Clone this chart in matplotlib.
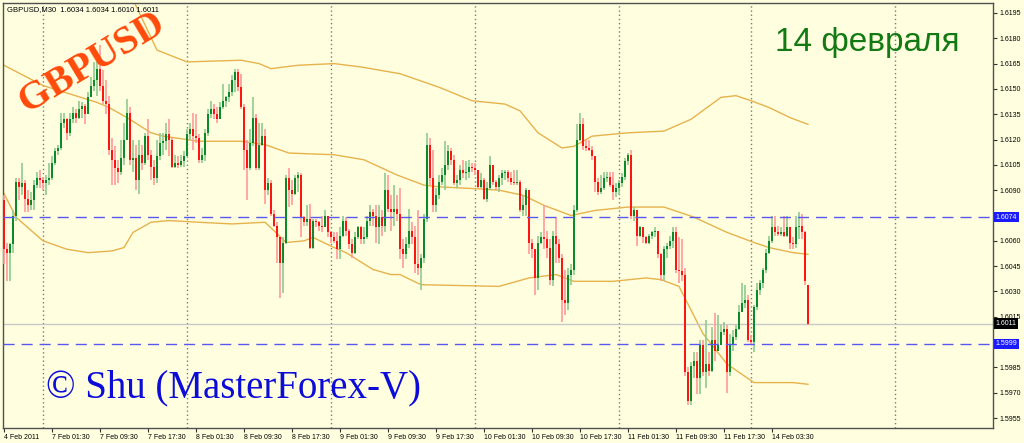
import matplotlib
matplotlib.use("Agg")
import matplotlib.pyplot as plt
import matplotlib.transforms as mtransforms
import numpy as np

# GBPUSD M30 candles, 4 Feb 2011 15:30 .. 14 Feb 2011 09:30 (prices in 0.0001 units)
opens = [
    16084, 16055, 16053, 16058, 16075, 16095, 16092, 16094, 16085, 16081, 16084, 16093, 16097, 16096, 16094, 16096,
    16097, 16106, 16113, 16115, 16130, 16132, 16124, 16132, 16136, 16133, 16138, 16140, 16135, 16145, 16152, 16155,
    16162, 16152, 16143, 16141, 16114, 16108, 16103, 16101, 16109, 16120, 16136, 16108, 16109, 16096, 16111, 16106,
    16122, 16111, 16104, 16097, 16110, 16118, 16119, 16123, 16120, 16104, 16106, 16105, 16107, 16110, 16123, 16126,
    16122, 16121, 16108, 16111, 16124, 16135, 16138, 16135, 16132, 16139, 16143, 16145, 16148, 16155, 16160, 16151,
    16139, 16114, 16103, 16118, 16133, 16103, 16117, 16122, 16090, 16094, 16076, 16069, 16062, 16047, 16059, 16097,
    16090, 16088, 16097, 16099, 16074, 16071, 16073, 16056, 16072, 16071, 16069, 16068, 16075, 16065, 16062, 16060,
    16055, 16063, 16072, 16066, 16058, 16053, 16062, 16068, 16061, 16062, 16072, 16077, 16075, 16068, 16074, 16069,
    16090, 16079, 16077, 16079, 16076, 16055, 16052, 16058, 16066, 16062, 16046, 16044, 16050, 16073, 16117, 16097,
    16081, 16087, 16095, 16099, 16105, 16113, 16108, 16094, 16096, 16102, 16100, 16101, 16104, 16103, 16102, 16092,
    16096, 16085, 16091, 16105, 16095, 16092, 16097, 16100, 16101, 16097, 16095, 16094, 16095, 16078, 16081, 16090,
    16059, 16055, 16038, 16059, 16062, 16061, 16056, 16037, 16063, 16058, 16050, 16025, 16023, 16040, 16043, 16078,
    16120, 16129, 16116, 16115, 16114, 16110, 16095, 16089, 16091, 16097, 16098, 16093, 16089, 16091, 16094, 16098,
    16107, 16111, 16075, 16078, 16063, 16068, 16062, 16059, 16063, 16065, 16066, 16052, 16040, 16055, 16057, 16060,
    16065, 16043, 16042, 16040, 15982, 15965, 15986, 15989, 15979, 15998, 15982, 15987, 15983, 16001, 15995, 15998,
    16006, 16008, 15982, 15998, 16003, 16008, 16018, 16023, 16025, 16001, 16000, 16021, 16031, 16035, 16043, 16053,
    16060, 16068, 16065, 16064, 16065, 16063, 16068, 16059, 16058, 16068, 16069, 16065, 16034,
]
highs = [
    16087, 16059, 16059, 16078, 16097, 16097, 16106, 16096, 16090, 16089, 16096, 16101, 16102, 16098, 16099, 16106,
    16110, 16115, 16117, 16136, 16136, 16133, 16136, 16139, 16138, 16143, 16142, 16141, 16148, 16157, 16166, 16167,
    16176, 16161, 16155, 16146, 16121, 16116, 16108, 16120, 16130, 16144, 16139, 16120, 16117, 16120, 16117, 16124,
    16132, 16114, 16108, 16120, 16124, 16124, 16130, 16132, 16121, 16111, 16110, 16111, 16113, 16126, 16130, 16136,
    16135, 16123, 16115, 16126, 16138, 16143, 16141, 16139, 16142, 16153, 16146, 16153, 16158, 16162, 16162, 16159,
    16141, 16120, 16126, 16145, 16135, 16130, 16130, 16126, 16097, 16096, 16078, 16071, 16063, 16062, 16099, 16103,
    16096, 16099, 16101, 16100, 16075, 16081, 16082, 16073, 16073, 16072, 16075, 16078, 16075, 16066, 16065, 16065,
    16068, 16075, 16074, 16067, 16061, 16065, 16069, 16069, 16068, 16075, 16081, 16079, 16081, 16081, 16078, 16100,
    16099, 16087, 16093, 16087, 16091, 16061, 16062, 16079, 16071, 16069, 16078, 16052, 16076, 16124, 16121, 16114,
    16091, 16099, 16103, 16119, 16117, 16115, 16111, 16099, 16105, 16108, 16107, 16108, 16106, 16106, 16102, 16100,
    16097, 16095, 16110, 16105, 16096, 16099, 16102, 16102, 16102, 16101, 16102, 16102, 16096, 16087, 16091, 16090,
    16061, 16055, 16063, 16065, 16081, 16066, 16061, 16066, 16074, 16061, 16052, 16043, 16044, 16046, 16081, 16129,
    16136, 16133, 16120, 16120, 16116, 16110, 16097, 16099, 16101, 16101, 16101, 16101, 16094, 16096, 16100, 16109,
    16112, 16114, 16080, 16078, 16069, 16068, 16063, 16064, 16066, 16068, 16066, 16053, 16057, 16059, 16063, 16068,
    16068, 16062, 16061, 16044, 15985, 15988, 15994, 15994, 16001, 16001, 16013, 15994, 16009, 16017, 16016, 16010,
    16012, 16010, 16005, 16007, 16010, 16022, 16035, 16034, 16028, 16004, 16022, 16035, 16037, 16044, 16055, 16063,
    16075, 16075, 16069, 16068, 16075, 16075, 16068, 16062, 16075, 16077, 16076, 16066, 16034,
]
lows = [
    16046, 16036, 16036, 16053, 16072, 16084, 16087, 16077, 16077, 16078, 16078, 16091, 16091, 16090, 16087, 16093,
    16096, 16105, 16111, 16114, 16127, 16120, 16122, 16130, 16130, 16132, 16133, 16129, 16135, 16145, 16149, 16146,
    16149, 16141, 16135, 16111, 16093, 16093, 16094, 16099, 16105, 16120, 16105, 16101, 16090, 16088, 16102, 16105,
    16108, 16096, 16093, 16094, 16108, 16111, 16114, 16110, 16103, 16103, 16103, 16104, 16104, 16110, 16120, 16114,
    16118, 16106, 16106, 16107, 16122, 16133, 16132, 16130, 16132, 16138, 16139, 16142, 16146, 16148, 16149, 16138,
    16102, 16084, 16102, 16116, 16102, 16102, 16116, 16082, 16087, 16075, 16068, 16047, 16026, 16029, 16058, 16080,
    16081, 16087, 16089, 16062, 16069, 16069, 16055, 16055, 16068, 16066, 16065, 16068, 16062, 16059, 16059, 16049,
    16049, 16062, 16063, 16055, 16050, 16052, 16061, 16058, 16058, 16061, 16069, 16069, 16059, 16058, 16063, 16065,
    16077, 16066, 16069, 16072, 16049, 16044, 16049, 16056, 16058, 16041, 16040, 16031, 16047, 16071, 16093, 16077,
    16077, 16085, 16093, 16090, 16102, 16105, 16093, 16091, 16093, 16097, 16096, 16097, 16101, 16099, 16091, 16091,
    16084, 16083, 16090, 16093, 16090, 16089, 16093, 16096, 16095, 16093, 16093, 16093, 16077, 16075, 16075, 16052,
    16050, 16028, 16031, 16058, 16055, 16050, 16034, 16033, 16047, 16047, 16012, 16016, 16019, 16034, 16040, 16077,
    16119, 16114, 16113, 16113, 16108, 16089, 16087, 16088, 16090, 16095, 16092, 16084, 16086, 16087, 16092, 16096,
    16105, 16073, 16072, 16057, 16062, 16059, 16058, 16058, 16061, 16062, 16050, 16036, 16036, 16050, 16055, 16056,
    16041, 16035, 16036, 15980, 15963, 15963, 15979, 15969, 15969, 15980, 15973, 15980, 15982, 15989, 15997, 15998,
    16004, 15970, 15980, 15995, 16001, 16007, 16019, 16020, 16000, 15998, 15994, 16019, 16028, 16032, 16041, 16052,
    16059, 16063, 16063, 16063, 16062, 16062, 16055, 16055, 16056, 16061, 16061, 16034, 16010,
]
closes = [
    16055, 16053, 16058, 16075, 16095, 16092, 16094, 16085, 16081, 16084, 16093, 16097, 16096, 16094, 16096, 16097,
    16106, 16113, 16115, 16130, 16132, 16124, 16132, 16136, 16133, 16138, 16140, 16135, 16145, 16152, 16155, 16162,
    16152, 16143, 16141, 16114, 16108, 16103, 16101, 16109, 16120, 16136, 16108, 16109, 16096, 16111, 16106, 16122,
    16111, 16104, 16097, 16110, 16118, 16119, 16123, 16120, 16104, 16106, 16105, 16107, 16110, 16123, 16126, 16122,
    16121, 16108, 16111, 16124, 16135, 16138, 16135, 16132, 16139, 16143, 16145, 16148, 16155, 16160, 16151, 16139,
    16114, 16103, 16118, 16133, 16103, 16117, 16122, 16090, 16094, 16076, 16069, 16062, 16047, 16059, 16097, 16090,
    16088, 16097, 16099, 16074, 16071, 16073, 16056, 16072, 16071, 16069, 16068, 16075, 16065, 16062, 16060, 16055,
    16063, 16072, 16066, 16058, 16053, 16062, 16068, 16061, 16062, 16072, 16077, 16075, 16068, 16074, 16069, 16090,
    16079, 16077, 16079, 16076, 16055, 16052, 16058, 16066, 16062, 16046, 16044, 16050, 16073, 16117, 16097, 16081,
    16087, 16095, 16099, 16105, 16113, 16108, 16094, 16096, 16102, 16100, 16101, 16104, 16103, 16102, 16092, 16096,
    16085, 16091, 16105, 16095, 16092, 16097, 16100, 16101, 16097, 16095, 16094, 16095, 16078, 16081, 16090, 16059,
    16055, 16038, 16059, 16062, 16061, 16056, 16037, 16063, 16058, 16050, 16025, 16023, 16040, 16043, 16078, 16120,
    16129, 16116, 16115, 16114, 16110, 16095, 16089, 16091, 16097, 16098, 16093, 16089, 16091, 16094, 16098, 16107,
    16111, 16075, 16078, 16063, 16068, 16062, 16059, 16063, 16065, 16066, 16052, 16040, 16055, 16057, 16060, 16065,
    16043, 16042, 16040, 15982, 15965, 15986, 15989, 15979, 15998, 15982, 15987, 15983, 16001, 15995, 15998, 16006,
    16008, 15982, 15998, 16003, 16008, 16018, 16023, 16025, 16001, 16000, 16021, 16031, 16035, 16043, 16053, 16060,
    16068, 16065, 16064, 16065, 16063, 16068, 16059, 16058, 16068, 16069, 16065, 16036, 16011,
]

# Bollinger bands (bar index, price in 0.0001 units)
upper_x = [40, 43, 51, 61, 79, 85, 89, 98, 110, 119, 132, 145, 156, 167, 172, 178, 186, 190, 196, 208,
           220, 229, 239, 244, 249, 255, 262, 268]
upper_y = [16212, 16203, 16173, 16166, 16167, 16165, 16162, 16164, 16165, 16163, 16159, 16151, 16143, 16141,
           16137, 16124, 16115, 16116, 16122, 16124, 16125, 16132, 16145, 16146, 16143, 16139, 16133, 16129]
mid_x = [0, 13, 31, 35, 41, 49, 53, 65, 79, 87, 95, 110, 120, 131, 140, 145, 156, 165, 173, 180,
         189, 197, 208, 220, 230, 241, 250, 255, 263, 268]
mid_y = [16164, 16152, 16142, 16139, 16133, 16124, 16122, 16119, 16119, 16117, 16112, 16111, 16108, 16099,
         16093, 16092, 16091, 16090, 16087, 16081, 16075, 16078, 16080, 16080, 16074, 16065, 16059, 16056,
         16053, 16052]
lower_x = [0, 4, 13, 21, 28, 36, 40, 43, 49, 55, 65, 76, 87, 90, 94, 100, 103, 110, 114, 123,
           129, 132, 139, 165, 175, 184, 190, 203, 214, 219, 225, 229, 233, 241, 250, 263, 268]
lower_y = [16088, 16074, 16060, 16055, 16053, 16054, 16056, 16065, 16071, 16072, 16071, 16070, 16071, 16066,
           16059, 16060, 16062, 16056, 16053, 16043, 16040, 16040, 16034, 16033, 16038, 16040, 16036, 16036,
           16038, 16037, 16033, 16019, 16005, 15987, 15976, 15976, 15975]

# day separators and time labels (bar index)
day_starts = [13, 61, 109, 157, 205, 249, 297]
time_ticks = [0, 16, 32, 48, 64, 80, 96, 112, 128, 144, 160, 176, 192, 208, 224, 240, 256]
time_labels = ["4 Feb 2011", "7 Feb 01:30", "7 Feb 09:30", "7 Feb 17:30", "8 Feb 01:30", "8 Feb 09:30",
               "8 Feb 17:30", "9 Feb 01:30", "9 Feb 09:30", "9 Feb 17:30", "10 Feb 01:30", "10 Feb 09:30",
               "10 Feb 17:30", "11 Feb 01:30", "11 Feb 09:30", "11 Feb 17:30", "14 Feb 03:30"]
price_ticks = [1.6195, 1.6180, 1.6165, 1.6150, 1.6135, 1.6120, 1.6105, 1.6090,
               1.6060, 1.6045, 1.6030, 1.6015, 1.5985, 1.5970, 1.5955]
level_hi = 1.6074
level_lo = 1.5999
last_price = 1.6011

BG = "#ffffe0"
BAND = "#e6b24c"

o = np.array(opens) / 1e4
h = np.array(highs) / 1e4
l = np.array(lows) / 1e4
c = np.array(closes) / 1e4
h = np.maximum(h, np.maximum(o, c))
l = np.minimum(l, np.minimum(o, c))
idx = np.arange(len(c))

fig = plt.figure(figsize=(10.24, 4.43), dpi=100, facecolor=BG)
ax = fig.add_axes([3 / 1024, 15 / 443, 990 / 1024, 425 / 443], facecolor=BG)

# day separators
for d in day_starts:
    ax.axvline(d, color="#7a7a7a", lw=1, linestyle=(0, (1, 2)), zorder=1)

# bands
ax.plot(upper_x, np.array(upper_y) / 1e4, color=BAND, lw=1, zorder=2)
ax.plot(mid_x, np.array(mid_y) / 1e4, color=BAND, lw=1, zorder=2)
ax.plot(lower_x, np.array(lower_y) / 1e4, color=BAND, lw=1, zorder=2)

# candles
wick_cols = np.where(c > o, "#8fcb8f", np.where(c < o, "#ff9a9a", "#b8b8b8"))
body_cols = np.where(c > o, "#0a8a2c", np.where(c < o, "#ff1414", "#a8a8a8"))
ax.vlines(idx, l, h, colors=wick_cols, lw=1.2, zorder=3)
body_bot = np.minimum(o, c)
body_h = np.maximum(np.abs(c - o), 0.00005)
ax.bar(idx, body_h, bottom=body_bot, width=0.75, color=body_cols, linewidth=0, zorder=4)

# horizontal levels
ax.axhline(last_price, color="#c8c8c8", lw=1, zorder=2)
ax.axhline(level_hi, color="#5858f0", lw=1, dashes=(8, 5), zorder=5)
ax.axhline(level_lo, color="#5858f0", lw=1, dashes=(8, 5), zorder=5)

ax.set_xlim(-1 / 3, 989 / 3)
ax.set_ylim(1.59491, 1.62009)

for sp in ax.spines.values():
    sp.set_color("#505050")
    sp.set_linewidth(1)

ax.yaxis.tick_right()
ax.set_yticks(price_ticks)
ax.set_yticklabels([f"{p:.4f}" for p in price_ticks])
ax.tick_params(axis="y", direction="out", length=3, width=0.8, pad=2, labelsize=5, colors="#303030",
               labelcolor="black")
ax.set_xticks(time_ticks)
ax.set_xticklabels(time_labels, ha="left")
ax.tick_params(axis="x", direction="out", length=3, width=0.8, pad=1.5, labelsize=5, colors="#303030",
               labelcolor="black")
for t in ax.get_xticklabels() + ax.get_yticklabels():
    t.set_family("Liberation Sans")

# highlighted price labels on the right scale
trans = mtransforms.blended_transform_factory(ax.transAxes, ax.transData)
for val, bg in [(level_hi, "#1a1aff"), (last_price, "black"), (level_lo, "#1a1aff")]:
    ax.text(1.0025, val, f"{val:.4f}", transform=trans, fontsize=5, color="white", va="center", ha="left",
            family="Liberation Sans", clip_on=False, zorder=10,
            bbox=dict(boxstyle="square,pad=0.25", fc=bg, ec="none"))

# overlay texts
fig.text(7 / 1024, 1 - 10 / 443, "GBPUSD,M30  1.6034 1.6034 1.6010 1.6011", fontsize=5.5,
         family="Liberation Sans", va="center", ha="left")
fig.text(92 / 1024, 1 - 63 / 443, "GBPUSD", rotation=31, color="#ff4a0a", fontsize=29, fontweight="bold",
         family="Liberation Serif", ha="center", va="center", rotation_mode="anchor")
fig.text(867 / 1024, 1 - 42 / 443, "14 февраля", color="#137a13", fontsize=24, family="Liberation Sans",
         ha="center", va="center")
fig.text(233 / 1024, 1 - 388 / 443, "© Shu (MasterForex-V)", color="#0c0cd8", fontsize=28,
         family="Liberation Serif", ha="center", va="center")

fig.savefig("out.png", dpi=100, facecolor=BG)
